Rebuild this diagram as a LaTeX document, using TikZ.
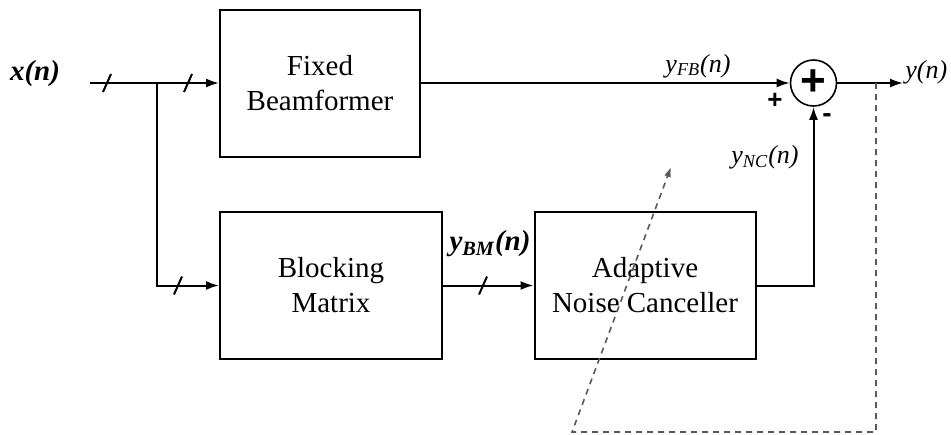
\documentclass[tikz,border=0pt]{standalone}
\usepackage{fontspec}
\setmainfont{Liberation Serif}
\newfontfamily\signfont{Liberation Sans}
\usetikzlibrary{arrows.meta}

\tikzset{
  block/.style={draw, line width=1pt, minimum height=73.5pt, align=center},
  sumnode/.style={draw, circle, line width=0.8pt, minimum size=23pt, inner sep=0pt,
    font=\signfont\bfseries\fontsize{22}{22}\selectfont},
  sig/.style={line width=1pt, -{Latex[length=6.5pt,width=4.5pt]}},
  fbpath/.style={line width=0.8pt, gray!70!black, dash pattern=on 3pt off 2.5pt,
    -{Latex[length=5pt,width=3.5pt]}},
  lbl/.style={inner sep=1pt, font=\itshape\fontsize{13}{15}\selectfont}
}
\newcommand{\busmark}[1]{\draw[line width=1pt] (#1) ++(-4,9) -- ++(8,-18);}

\begin{document}
\begin{tikzpicture}[x=0.5pt, y=-0.5pt, every node/.style={font=\fontsize{14.5}{17.5}\selectfont}]
    \useasboundingbox (0,0) rectangle (951,434);

    % Draw the blocks
    \node[block, minimum width=100pt] (fb) at (320,83) {Fixed\\Beamformer};
    \node[block, minimum width=111pt] (bm) at (331,285.5) {Blocking\\Matrix};
    \node[block, minimum width=110.5pt] (anc) at (645,285.5) {Adaptive\\Noise Canceller};
    \node[sumnode] (sum) at (813.5,83) {+};

    % Input and branch point
    \node[font=\bfseries\itshape\fontsize{14.5}{17}\selectfont] (xlab) at (35,74) {x(n)};
    \coordinate (xin) at (90,83);
    \coordinate (br) at (157,83);
    \draw[sig] (xin) -- (fb.west);
    \draw[sig] (br) |- (bm.west);

    % Blocking matrix to noise canceller
    \draw[sig] (bm.east) -- (anc.west);
    \node[font=\bfseries\itshape\fontsize{14.5}{17}\selectfont] (ybm) at (490,244)
        {y\textsubscript{BM}(n)};

    % Paths into the summation
    \draw[sig] (fb.east) -- (sum.west);
    \draw[sig] (anc.east) -| (sum.south);
    \node[lbl] (yfb) at (698,66) {y\textsubscript{FB}(n)};
    \node[lbl] (ync) at (765,157) {y\textsubscript{NC}(n)};
    \node[font=\signfont\bfseries\fontsize{13}{13}\selectfont] (plus) at (775,101) {+};
    \node[font=\signfont\bfseries\fontsize{14}{14}\selectfont] (minus) at (827,118) {-};

    % Output
    \coordinate (yout) at (903,83);
    \draw[sig] (sum.east) -- (yout);
    \node[lbl, anchor=west] (ylab) at (903,72) {y(n)};

    % Adaptation feedback
    \coordinate (tap) at (876,83);
    \coordinate (dl) at (572,432);
    \coordinate (tip) at (671,167);
    \draw[fbpath] (tap) |- (dl) -- (tip);

    % Bus marks
    \busmark{107,83}
    \busmark{188,83}
    \busmark{178,285.5}
    \busmark{483,285.5}
\end{tikzpicture}
\end{document}
